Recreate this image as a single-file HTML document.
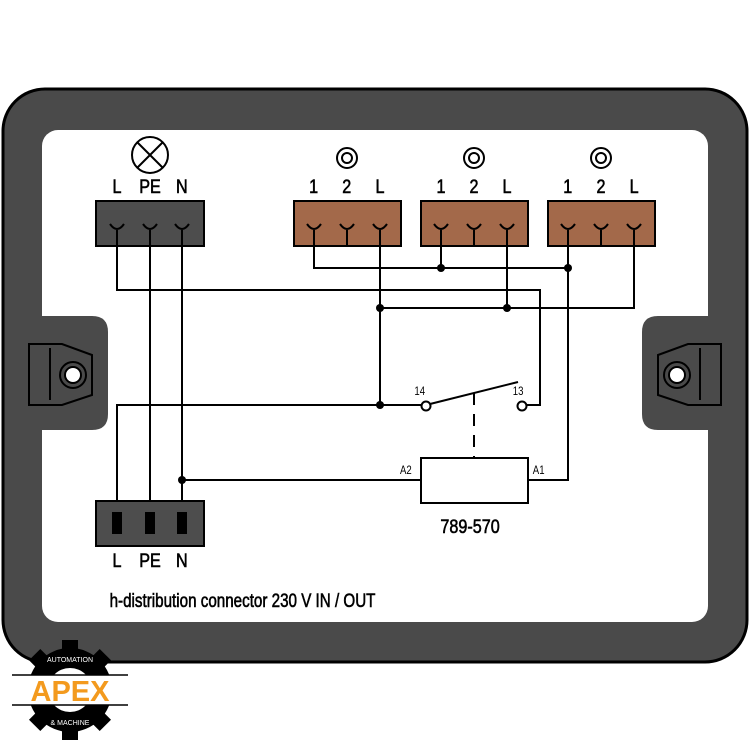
<!DOCTYPE html>
<html><head><style>body{margin:0;background:#fff}svg{display:block}</style></head><body>
<svg width="750" height="750" viewBox="0 0 750 750" xmlns="http://www.w3.org/2000/svg" font-family="Liberation Sans, sans-serif">
<rect x="3" y="89" width="744" height="573" rx="42" fill="#4a4a4a" stroke="#000" stroke-width="3"/>
<rect x="42" y="130" width="666" height="492" rx="16" fill="#fff"/>
<path d="M42 316 H92 Q108 316 108 332 V414 Q108 430 92 430 H42 Z" fill="#4a4a4a"/>
<path d="M708 316 H658 Q642 316 642 332 V414 Q642 430 658 430 H708 Z" fill="#4a4a4a"/>
<g fill="none" stroke="#000" stroke-width="2">
<path d="M29 344 H62 L92 355 V395 L62 405 H29 Z"/><line x1="50" y1="348" x2="50" y2="400"/>
<circle cx="73" cy="375" r="13"/>
<path d="M721 344 H688 L658 355 V395 L688 405 H721 Z"/><line x1="700" y1="348" x2="700" y2="400"/>
<circle cx="677" cy="375" r="13"/>
</g>
<circle cx="73" cy="375" r="8" fill="#fff" stroke="#000" stroke-width="2"/>
<circle cx="677" cy="375" r="8" fill="#fff" stroke="#000" stroke-width="2"/>
<rect x="96" y="201" width="108" height="45" fill="#4d4d4d" stroke="#000" stroke-width="2"/>
<rect x="294" y="201" width="107" height="45" fill="#a3694a" stroke="#000" stroke-width="2"/>
<rect x="421" y="201" width="107" height="45" fill="#a3694a" stroke="#000" stroke-width="2"/>
<rect x="548" y="201" width="107" height="45" fill="#a3694a" stroke="#000" stroke-width="2"/>
<rect x="96" y="501" width="108" height="45" fill="#4d4d4d" stroke="#000" stroke-width="2"/>
<g fill="#000"><rect x="112" y="512" width="10" height="22"/><rect x="145" y="512" width="10" height="22"/><rect x="177" y="512" width="10" height="22"/></g>
<g fill="none" stroke="#000" stroke-width="2">
<path d="M110 224 Q117 234 124 224 M143 224 Q150 234 157 224 M175 224 Q182 234 189 224"/>
<path d="M307 224 Q314 234 321 224 M340 224 Q347 234 354 224 M373 224 Q380 234 387 224"/>
<path d="M434 224 Q441 234 448 224 M467 224 Q474 234 481 224 M500 224 Q507 234 514 224"/>
<path d="M561 224 Q568 234 575 224 M594 224 Q601 234 608 224 M627 224 Q634 234 641 224"/>
<line x1="347" y1="230" x2="347" y2="246"/><line x1="474" y1="230" x2="474" y2="246"/><line x1="601" y1="230" x2="601" y2="246"/>
<circle cx="150" cy="155" r="18"/><path d="M137 142 L163 168 M163 142 L137 168"/>
<circle cx="347" cy="158" r="10"/><circle cx="347" cy="158" r="5"/>
<circle cx="474" cy="158" r="10"/><circle cx="474" cy="158" r="5"/>
<circle cx="601" cy="158" r="10"/><circle cx="601" cy="158" r="5"/>
<path d="M314 230 V268 H568 V480 H528 M441 230 V268 M568 230 V268"/>
<path d="M380 230 V405 M380 308 H634 V230 M507 230 V308"/>
<path d="M117 230 V290 H540 V405 H527"/>
<path d="M150 230 V501 M182 230 V501 M182 480 H421"/>
<path d="M117 501 V405 H421"/>
<circle cx="426" cy="406" r="4.5" fill="#fff"/><circle cx="522" cy="406" r="4.5" fill="#fff"/>
<line x1="430" y1="404" x2="518" y2="382"/>
<path d="M474 393 V458" stroke-dasharray="12 9"/>
<rect x="421" y="458" width="107" height="45" fill="#fff"/>
</g>
<g fill="#000"><circle cx="441" cy="268" r="4"/><circle cx="568" cy="268" r="4"/><circle cx="507" cy="308" r="4"/><circle cx="380" cy="308" r="4"/><circle cx="380" cy="405" r="4"/><circle cx="182" cy="480" r="4"/></g>
<g font-size="19" text-anchor="middle" fill="#000" stroke="#000" stroke-width="0.6" transform="scale(0.85,1)">
<text x="137.6" y="193">L</text><text x="176.5" y="193">PE</text><text x="214" y="193">N</text>
<text x="369" y="193">1</text><text x="408" y="193">2</text><text x="447" y="193">L</text>
<text x="518.8" y="193">1</text><text x="557.6" y="193">2</text><text x="596.5" y="193">L</text>
<text x="668" y="193">1</text><text x="707" y="193">2</text><text x="746" y="193">L</text>
<text x="137.6" y="567">L</text><text x="176.5" y="567">PE</text><text x="214" y="567">N</text>
<text x="553" y="533">789-570</text>
</g>
<g font-size="12" fill="#000" transform="scale(0.8,1)">
<text x="518" y="395">14</text><text x="641" y="395">13</text>
<text x="500" y="474">A2</text><text x="666" y="474">A1</text>
</g>
<text x="137" y="607" font-size="19" fill="#000" stroke="#000" stroke-width="0.6" transform="scale(0.8,1)">h-distribution connector  230 V IN / OUT</text>
<g transform="translate(70,690)">
<circle r="42" fill="#000"/>
<g fill="#000"><rect x="-8" y="-50" width="16" height="100"/><rect x="-50" y="-8" width="100" height="16"/>
<rect x="-8" y="-50" width="16" height="100" transform="rotate(45)"/><rect x="-8" y="-50" width="16" height="100" transform="rotate(-45)"/></g>
<circle r="22" fill="#fff"/>
<rect x="-56" y="-15" width="112" height="30" fill="#fff"/>
<line x1="-58" y1="-15" x2="58" y2="-15" stroke="#000" stroke-width="1.5"/><line x1="-58" y1="15" x2="58" y2="15" stroke="#000" stroke-width="1.5"/>
<text x="0" y="11" font-size="29" font-weight="bold" fill="#f39a1e" text-anchor="middle">APEX</text>
<text x="0" y="-28" font-size="7" fill="#fff" text-anchor="middle">AUTOMATION</text>
<text x="0" y="35" font-size="7" fill="#fff" text-anchor="middle">&amp; MACHINE</text>
</g>
</svg>
</body></html>
